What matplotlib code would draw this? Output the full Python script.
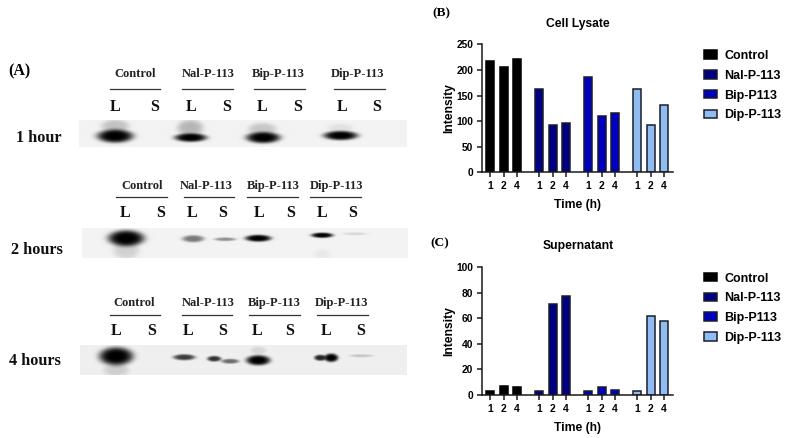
"""Western blots (A) with lysate (B) and supernatant (C) intensity bars."""

import numpy as np
import matplotlib
matplotlib.use("Agg")
import matplotlib.pyplot as plt
from matplotlib.patches import Patch

W, H = 787, 438
SANS = "Liberation Sans"
SERIF = "Liberation Serif"

groups = ["Control", "Nal-P-113", "Bip-P113", "Dip-P-113"]
blot_groups = ["Control", "Nal-P-113", "Bip-P-113", "Dip-P-113"]
colors = ["#000000", "#000080", "#0000c0", "#8fbdf2"]
edges = ["#000000", "#1c1c2c", "#1c1c2c", "#1c1c2c"]
times = ["1", "2", "4"]

lysate = [[218, 206, 222], [163, 92, 97], [187, 110, 115], [162, 92, 131]]
supernatant = [[3, 7, 6], [3, 71, 77], [3, 6, 4], [3, 62, 58]]

# blot rows, positions in px of the picture
row_names = ["1 hour", "2 hours", "4 hours"]
row_label_pos = [(39, 137.5), (37, 250), (34.5, 361)]
gel_boxes = [(79, 407, 120.5, 147), (82, 408, 228, 258), (80, 407, 345, 375)]
head_y = [74, 186, 303]
rule_y = [89, 197, 315]
lane_y = [107, 213, 331]
head_x = [[135, 208, 278, 358], [142, 206, 273, 337], [134, 208, 274, 342]]
rule_x = [[(110, 160), (182, 233), (254, 305), (334, 385)],
          [(116, 167), (184, 234), (247, 298), (310, 361)],
          [(110, 160), (182, 232), (249, 300), (317, 368)]]
lane_x = [[115, 155, 191, 227, 262, 298, 342, 377],
          [125, 161, 192, 223, 259, 291, 322, 353],
          [116, 152, 188, 223, 257, 290, 326, 361]]

# bands: x, y, half width, half height, darkness
bands = [
    [(115, 136, 18, 6.5, 1.0), (115, 126, 14, 6, 0.2), (190.5, 137.5, 16, 4.2, 1.0),
     (190, 128, 13, 8, 0.25), (263, 137.5, 17, 5.5, 1.0), (262, 129, 14, 6, 0.18),
     (340.5, 135.5, 17, 4.5, 1.0), (340, 128, 13, 4, 0.07)],
    [(126, 238, 18, 8, 1.0), (126, 250, 13, 9, 0.14), (193, 238.5, 11, 3.5, 0.5),
     (225, 239, 11, 1.8, 0.4), (258, 238, 13, 3.4, 1.0), (322, 235, 11, 2.6, 1.0),
     (355, 233.5, 12, 1.3, 0.12), (322, 254, 8, 5, 0.04)],
    [(116, 356, 17, 9, 1.0), (116, 370, 13, 6, 0.14), (184, 357, 11, 3, 0.75),
     (214, 358.5, 7, 2.8, 0.8), (230, 361, 9, 2.4, 0.55), (258, 360, 12, 5, 1.0),
     (258, 350, 8, 4, 0.1), (320, 357.5, 6, 3, 0.85), (331, 357.5, 7, 4.2, 1.0),
     (361, 355.5, 12, 1.5, 0.18)],
]
gel_tone = [0.95, 0.95, 0.94]

fig = plt.figure(figsize=(W / 100, H / 100), dpi=100, facecolor="white")

# overlay in picture px for panel A
bg = fig.add_axes([0, 0, 1, 1])
bg.set_xlim(0, W); bg.set_ylim(H, 0); bg.axis("off")


def draw_gel(box, row, tone):
    x0, x1, y0, y1 = box
    xs = np.arange(x0, x1, 0.5)
    ys = np.arange(y0, y1, 0.5)
    xx, yy = np.meshgrid(xs, ys)
    img = np.full(xx.shape, tone)
    for bx, by, bw, bh, dark in row:
        d = ((xx - bx) / bw) ** 2 + ((yy - by) / bh) ** 2
        img *= 1 - dark * np.exp(-d ** 2.2)
    bg.imshow(img, cmap="gray", vmin=0, vmax=1, extent=(x0, x1, y1, y0),
              aspect="auto", interpolation="bilinear", zorder=1)


for i, name in enumerate(row_names):
    draw_gel(gel_boxes[i], bands[i], gel_tone[i])
    bg.text(*row_label_pos[i], name, family=SERIF, weight="bold", fontsize=11.7,
            ha="center", va="center", color="#111111")
    for g, label in enumerate(blot_groups):
        bg.text(head_x[i][g], head_y[i], label, family=SERIF, weight="bold", fontsize=9,
                ha="center", va="center", color="#222222")
        bg.plot(rule_x[i][g], [rule_y[i]] * 2, color="#333333", lw=0.9, zorder=2)
    for k, lx in enumerate(lane_x[i]):
        bg.text(lx, lane_y[i], "LS"[k % 2], family=SERIF, weight="bold", fontsize=11.5,
                ha="center", va="center", color="#111111")
bg.set_xlim(0, W); bg.set_ylim(H, 0)

bg.text(19, 71, "(A)", family=SERIF, weight="bold", fontsize=11.5, ha="center", va="center")
bg.text(441, 13, "(B)", family=SERIF, weight="bold", fontsize=9.7, ha="center", va="center")
bg.text(440, 243, "(C)", family=SERIF, weight="bold", fontsize=9.7, ha="center", va="center")


def bar_panel(top, bottom, values, title, ymax, ystep, title_y, xlabel_y, legend_y):
    left, right = 482.3, 673.3
    ax = fig.add_axes([left / W, 1 - bottom / H, (right - left) / W, (bottom - top) / H])
    ax.patch.set_alpha(0)
    x_all = []
    for g, vals in enumerate(values):
        xs = [g * 3.675 + t for t in range(3)]
        x_all += xs
        ax.bar(xs, vals, width=0.58, color=colors[g], edgecolor=edges[g], linewidth=1.1)
    ax.set_xlim(-0.6, 13.725)
    ax.set_ylim(0, ymax)
    ax.set_xticks(x_all)
    ax.set_xticklabels(times * 4)
    ax.set_yticks(np.arange(0, ymax + 1, ystep))
    for s in ("top", "right"):
        ax.spines[s].set_visible(False)
    for s in ("left", "bottom"):
        ax.spines[s].set_linewidth(1.1)
        ax.spines[s].set_color("#1a1a1a")
    ax.tick_params(length=3.5, width=1.1, pad=3, color="#1a1a1a")
    for t in ax.get_xticklabels() + ax.get_yticklabels():
        t.set_fontfamily(SANS); t.set_fontweight("bold"); t.set_fontsize(7.4)
    bg.text(578, title_y, title, family=SANS, weight="bold", fontsize=8.7, ha="center", va="center")
    bg.text(578, xlabel_y, "Time (h)", family=SANS, weight="bold", fontsize=8.7,
            ha="center", va="center")
    bg.text(449, (top + bottom) / 2, "Intensity", family=SANS, weight="bold", fontsize=8.7,
            rotation=90, ha="center", va="center")
    handles = [Patch(facecolor=c, edgecolor=e, linewidth=1.1) for c, e in zip(colors, edges)]
    fig.legend(handles, groups, loc="upper left", bbox_to_anchor=(703.5 / W, 1 - legend_y / H),
               frameon=False, handlelength=1.1, handleheight=0.65, handletextpad=0.55,
               labelspacing=0.62, borderpad=0, borderaxespad=0,
               prop={"family": SANS, "weight": "bold", "size": 9})


bar_panel(44.3, 172.3, lysate, "Cell Lysate", 250, 50, 24, 205, 50)
bar_panel(267, 394.7, supernatant, "Supernatant", 100, 20, 246, 428, 272.5)

fig.savefig("out.png", dpi=100)
plt.close(fig)
